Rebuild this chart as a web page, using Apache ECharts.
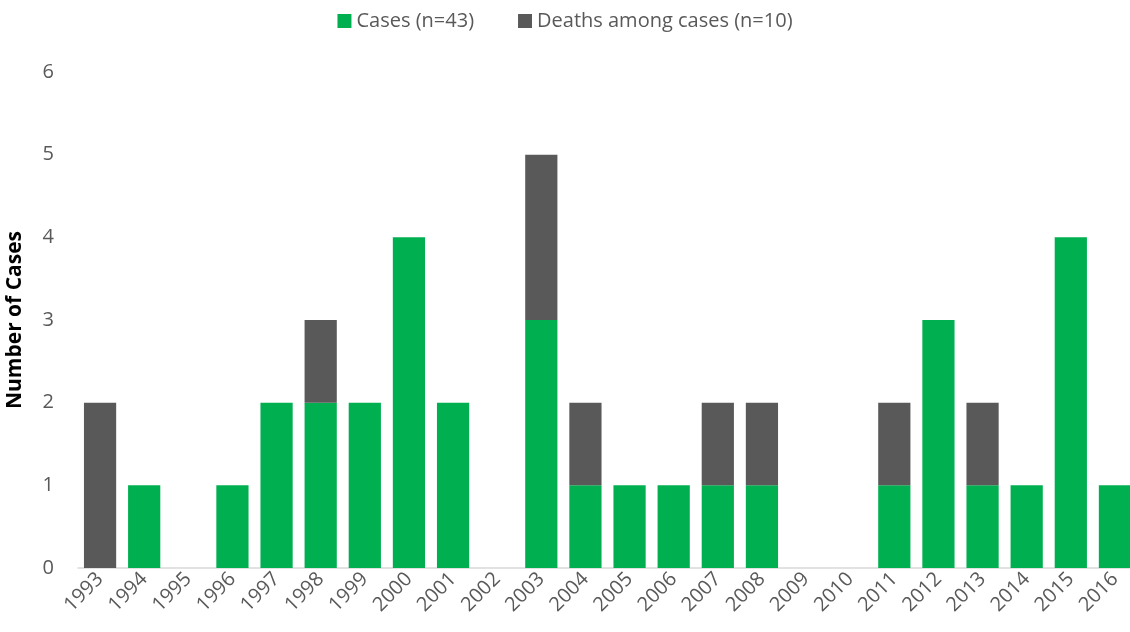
<!DOCTYPE html>
<html lang="en">
<head>
	<meta charset="UTF-8" />
	<title>Cases and deaths by year</title>
	<script src="https://cdn.jsdelivr.net/npm/echarts@6/dist/echarts.min.js"></script>
	<style>
		html, body { margin: 0; padding: 0; background: #fff; }
		#main { width: 1130px; height: 632px; }
	</style>
</head>
<body>
<div id="main"></div>
<script>
	// data
	var years = ['1993','1994','1995','1996','1997','1998','1999','2000','2001','2002','2003','2004',
		'2005','2006','2007','2008','2009','2010','2011','2012','2013','2014','2015','2016'];
	var cases = [0,1,0,1,2,2,2,4,2,0,3,1,1,1,1,1,0,0,1,3,1,1,4,1];
	var deaths = [2,0,0,0,0,1,0,0,0,0,2,1,0,0,1,1,0,0,1,0,1,0,0,0];
	var yTicks = [0,1,2,3,4,5,6];

	var mychart = echarts.init(document.getElementById('main'));
	var font = '"Open Sans", Lato, sans-serif';

	mychart.setOption({
		textStyle: { fontFamily: font },
		legend: {
			top: 6,
			left: 'center',
			itemWidth: 14,
			itemHeight: 14,
			itemGap: 44,
			itemStyle: { borderWidth: 0 },
			icon: 'rect',
			textStyle: { fontSize: 20, color: '#595959', fontFamily: font },
			data: ['Cases (n=43)', 'Deaths among cases (n=10)']
		},
		grid: {
			left: 78,
			right: -7,
			top: 72,
			bottom: 64,
			outerBoundsMode: 'none'
		},
		xAxis: {
			type: 'category',
			data: years,
			axisLine: { lineStyle: { color: '#d9d9d9', width: 1.5 } },
			axisTick: { show: false },
			axisLabel: {
				rotate: 45,
				interval: 0,
				fontSize: 20,
				color: '#595959',
				margin: 8
			}
		},
		yAxis: {
			type: 'value',
			min: yTicks[0],
			max: yTicks[yTicks.length - 1],
			interval: 1,
			name: 'Number of Cases',
			nameLocation: 'middle',
			nameGap: 52,
			nameTextStyle: { fontSize: 21, fontWeight: 'bold', color: '#000' },
			splitLine: { show: false },
			axisLine: { show: false },
			axisTick: { show: false },
			axisLabel: { fontSize: 20, color: '#595959', margin: 24 }
		},
		series: [
			{
				name: 'Cases (n=43)',
				type: 'bar',
				stack: 'total',
				barCategoryGap: '27%',
				data: cases,
				itemStyle: { color: '#00B050' }
			},
			{
				name: 'Deaths among cases (n=10)',
				type: 'bar',
				stack: 'total',
				data: deaths,
				itemStyle: { color: '#595959' }
			}
		]
	});
</script>
</body>
</html>
